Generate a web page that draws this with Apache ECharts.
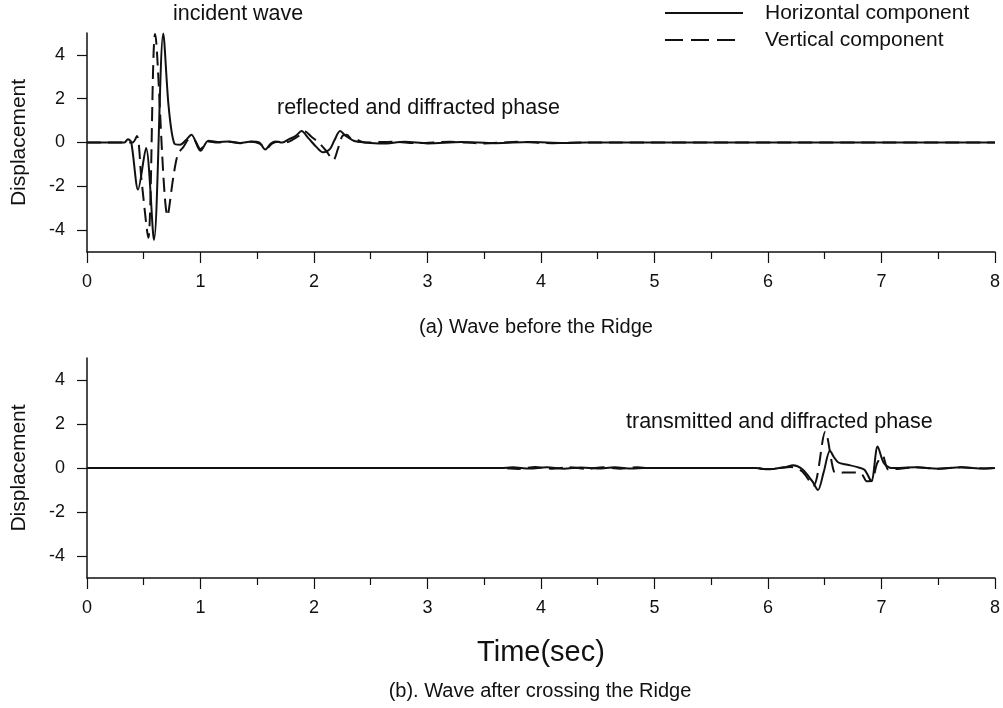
<!DOCTYPE html>
<html>
<head>
<meta charset="utf-8">
<script src="https://cdn.jsdelivr.net/npm/echarts@6/dist/echarts.min.js"></script>
<style>
  html, body { margin: 0; padding: 0; background: #fff; }
  #chart { width: 1003px; height: 708px; }
</style>
</head>
<body>
<div id="chart"></div>
<script>
// Seismic displacement records: (a) before the ridge, (b) after crossing it.
// Times in seconds, displacements in model units.

// (a) horizontal component
const timeA_H = [0, 0.33, 0.36, 0.39, 0.45, 0.52, 0.59, 0.672, 0.72, 0.77, 0.82, 0.87, 0.92, 1.0, 1.07, 1.15, 1.25, 1.35, 1.45, 1.52, 1.57, 1.62, 1.66, 1.72, 1.78, 1.84, 1.89, 1.95, 2.02, 2.08, 2.14, 2.18, 2.23, 2.28, 2.35, 2.45, 2.6, 2.8, 3.0, 3.3, 3.6, 3.9, 4.2, 4.4, 8];
const dispA_H = [0, 0, 0.15, 0, -2.15, -0.25, -4.45, 4.98, 1.6, -0.05, -0.1, 0.1, 0.35, -0.38, 0.08, 0.02, 0.05, -0.02, 0.05, 0.0, -0.32, -0.05, 0.05, 0.0, 0.15, 0.3, 0.52, 0.2, -0.2, -0.45, -0.3, 0.1, 0.52, 0.3, 0.08, 0.0, -0.05, 0.03, -0.04, 0.02, -0.03, 0.02, -0.02, 0, 0];

// (a) vertical component
const timeA_V = [0, 0.40, 0.44, 0.48, 0.54, 0.60, 0.71, 0.76, 0.80, 0.85, 0.90, 0.95, 1.0, 1.07, 1.15, 1.25, 1.35, 1.45, 1.52, 1.58, 1.63, 1.68, 1.75, 1.82, 1.87, 1.92, 1.98, 2.05, 2.11, 2.17, 2.21, 2.25, 2.29, 2.33, 2.38, 2.45, 2.7, 2.9, 3.2, 3.5, 3.8, 4.1, 4.4, 8];
const dispA_V = [0, 0, 0.3, -1.7, -4.35, 4.95, -3.35, -1.6, -0.55, -0.2, 0.15, 0.1, -0.3, 0.05, 0.0, 0.03, -0.03, 0.03, -0.05, -0.28, -0.05, 0.03, 0.0, 0.15, 0.32, 0.5, 0.25, -0.05, -0.4, -0.8, -0.3, 0.3, 0.35, 0.15, 0.12, 0.0, 0.04, -0.03, 0.03, -0.04, 0.03, -0.03, 0, 0];

// (b) horizontal component
const timeB_H = [0, 3.65, 3.75, 3.9, 4.05, 4.2, 4.35, 4.5, 4.65, 4.8, 4.9, 5.9, 5.95, 6.05, 6.16, 6.22, 6.3, 6.39, 6.44, 6.49, 6.546, 6.58, 6.62, 6.7, 6.78, 6.85, 6.91, 6.966, 7.02, 7.09, 7.3, 7.5, 7.7, 7.9, 8];
const dispB_H = [0, 0, 0.03, -0.02, 0.03, -0.03, 0.02, -0.02, 0.03, -0.02, 0, 0, -0.05, -0.04, 0.05, 0.12, -0.05, -0.6, -1.0, -0.2, 0.78, 0.5, 0.25, 0.15, 0.05, -0.08, -0.6, 0.98, 0.23, 0.0, 0.03, -0.03, 0.03, -0.02, 0];

// (b) vertical component
const timeB_V = [0, 3.65, 3.8, 3.95, 4.1, 4.25, 4.4, 4.55, 4.7, 4.85, 4.95, 5.9, 6.0, 6.1, 6.2, 6.3, 6.4, 6.505, 6.58, 6.62, 6.7, 6.78, 6.83, 6.87, 6.92, 6.96, 7.01, 7.06, 7.12, 7.3, 7.5, 7.7, 7.9, 8];
const dispB_V = [0, 0, -0.04, 0.04, -0.03, 0.03, -0.04, 0.03, -0.03, 0.03, 0, 0, -0.06, 0.0, 0.05, -0.15, -0.8, 1.65, -0.15, -0.22, -0.2, -0.2, -0.3, -0.6, -0.55, 0.2, 0.55, -0.07, -0.05, 0.03, -0.03, 0.03, -0.02, 0];

// Axis ticks
const timeTicks = [0, 1, 2, 3, 4, 5, 6, 7, 8];
const dispTicks = [-4, -2, 0, 2, 4];

const seriesNames = ['Horizontal component', 'Vertical component'];
const annotations = ['incident wave', 'reflected and diffracted phase', 'transmitted and diffracted phase'];
const captions = ['(a) Wave before the Ridge', '(b). Wave after crossing the Ridge'];
const xTitle = 'Time(sec)';
const yTitle = 'Displacement';

const FONT = '"Liberation Sans", Arial, sans-serif';
const INK = '#111';
const DASH = [14, 7];

const zip = (t, v) => t.map((x, i) => [x, v[i]]);

function xAxisFor(gridIndex, withName) {
  return {
    gridIndex,
    type: 'value',
    min: timeTicks[0],
    max: timeTicks[timeTicks.length - 1],
    interval: 1,
    axisLine: { onZero: false, lineStyle: { color: INK, width: 1.5 } },
    axisTick: { length: 11, lineStyle: { color: INK, width: 1.2 } },
    minorTick: { show: true, splitNumber: 2, length: 7, lineStyle: { color: INK, width: 1.2 } },
    splitLine: { show: false },
    axisLabel: { color: INK, fontSize: 18, fontFamily: FONT, margin: 21 },
    name: withName ? xTitle : '',
    nameLocation: 'middle',
    nameGap: 60,
    nameTextStyle: { color: INK, fontSize: 29, fontFamily: FONT }
  };
}

function yAxisFor(gridIndex) {
  return {
    gridIndex,
    type: 'value',
    min: -5,
    max: 5,
    axisLine: { show: true, onZero: false, lineStyle: { color: INK, width: 1.5 } },
    axisTick: { show: true, length: 10, customValues: dispTicks, lineStyle: { color: INK, width: 1.2 } },
    axisLabel: { color: INK, fontSize: 18, fontFamily: FONT, margin: 22, customValues: dispTicks },
    splitLine: { show: false },
    name: yTitle,
    nameLocation: 'middle',
    nameRotate: 90,
    nameGap: 57,
    nameTextStyle: { color: INK, fontSize: 21, fontFamily: FONT }
  };
}

function line(name, idx, data, dashed) {
  return {
    name,
    type: 'line',
    xAxisIndex: idx,
    yAxisIndex: idx,
    data,
    showSymbol: false,
    symbol: 'none',
    smooth: 0.3,
    animation: false,
    lineStyle: { color: INK, width: 2, type: dashed ? DASH : 'solid' },
    itemStyle: { color: INK }
  };
}

// Key box in the upper right corner
function legendRow(y, label, dashed) {
  return [
    { type: 'line', shape: { x1: 665, y1: y, x2: 743, y2: y },
      style: { stroke: INK, lineWidth: 2, lineDash: dashed ? [18, 8] : null } },
    { type: 'text', x: 765, y: y, style: { text: label, fill: INK, font: '21px ' + FONT, textVerticalAlign: 'middle' } }
  ];
}

const chart = echarts.init(document.getElementById('chart'), null, { renderer: 'canvas' });

chart.setOption({
  animation: false,
  backgroundColor: '#fff',
  grid: [
    { left: 87, right: 7, top: 33, height: 219 },
    { left: 87, right: 7, top: 358, height: 220 }
  ],
  xAxis: [xAxisFor(0, false), xAxisFor(1, true)],
  yAxis: [yAxisFor(0), yAxisFor(1)],
  series: [
    line(seriesNames[0], 0, zip(timeA_H, dispA_H), false),
    line(seriesNames[1], 0, zip(timeA_V, dispA_V), true),
    line(seriesNames[0], 1, zip(timeB_H, dispB_H), false),
    line(seriesNames[1], 1, zip(timeB_V, dispB_V), true)
  ],
  graphic: [
    ...legendRow(13, seriesNames[0], false),
    ...legendRow(40, seriesNames[1], true),
    { type: 'text', x: 173, y: 14, style: { text: annotations[0], fill: INK, font: '21.5px ' + FONT, textVerticalAlign: 'middle' } },
    { type: 'text', x: 277, y: 108, style: { text: annotations[1], fill: INK, font: '21.5px ' + FONT, textVerticalAlign: 'middle' } },
    { type: 'text', x: 626, y: 422, style: { text: annotations[2], fill: INK, font: '21.5px ' + FONT, textVerticalAlign: 'middle' } },
    { type: 'text', x: 536, y: 327, style: { text: captions[0], fill: INK, font: '20px ' + FONT, textAlign: 'center', textVerticalAlign: 'middle' } },
    { type: 'text', x: 540, y: 691, style: { text: captions[1], fill: INK, font: '20px ' + FONT, textAlign: 'center', textVerticalAlign: 'middle' } }
  ]
});
</script>
</body>
</html>
